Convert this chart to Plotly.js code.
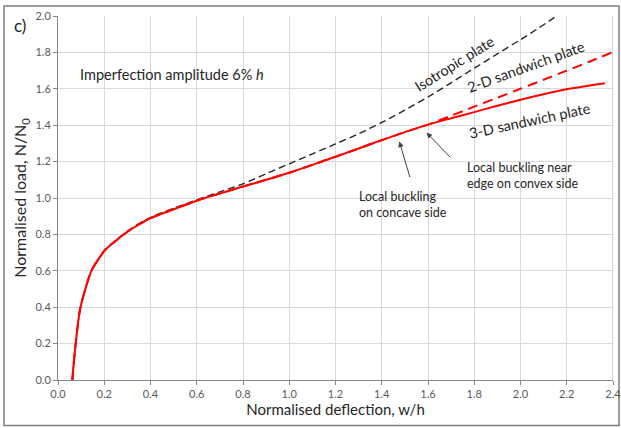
<!DOCTYPE html>
<html>
<head>
<meta charset="utf-8">
<script src="https://cdn.plot.ly/plotly-3.0.1.min.js"></script>
<style>
  html, body { margin: 0; padding: 0; background: #ffffff; }
  #chart { width: 621px; height: 428px; }
</style>
</head>
<body>
<div id="chart"></div>
<script>
// Normalised deflection w/h and normalised load N/N0 for each plate model
const isoDefl  = [0.062, 0.0735, 0.095, 0.117, 0.146, 0.182, 0.203, 0.254, 0.311, 0.398, 0.50, 0.60, 0.70, 0.80, 0.90, 1.00, 1.10, 1.20, 1.30, 1.40, 1.50, 1.60, 1.70, 1.80, 1.90, 2.00, 2.08, 2.156];
const isoLoad  = [0.0,   0.165,  0.385, 0.495, 0.604, 0.679, 0.716, 0.772, 0.828, 0.892, 0.943, 0.990, 1.034, 1.078, 1.133, 1.188, 1.242, 1.297, 1.353, 1.415, 1.483, 1.555, 1.633, 1.713, 1.792, 1.870, 1.935, 2.0];

const sw2Defl  = [0.062, 0.0735, 0.095, 0.117, 0.146, 0.182, 0.203, 0.254, 0.311, 0.398, 0.50, 0.60, 0.70, 0.80, 0.90, 1.00, 1.10, 1.20, 1.30, 1.40, 1.50, 1.60, 1.70, 1.80, 1.90, 2.00, 2.10, 2.20, 2.30, 2.40];
const sw2Load  = [0.0,   0.165,  0.385, 0.495, 0.604, 0.677, 0.714, 0.769, 0.824, 0.888, 0.938, 0.985, 1.025, 1.063, 1.100, 1.139, 1.182, 1.227, 1.272, 1.318, 1.362, 1.403, 1.452, 1.502, 1.551, 1.600, 1.650, 1.700, 1.750, 1.802];

const sw3Defl  = [0.062, 0.0735, 0.095, 0.117, 0.146, 0.182, 0.203, 0.254, 0.311, 0.398, 0.50, 0.60, 0.70, 0.80, 0.90, 1.00, 1.10, 1.20, 1.30, 1.40, 1.50, 1.60, 1.70, 1.80, 1.90, 2.00, 2.10, 2.20, 2.30, 2.365];
const sw3Load  = [0.0,   0.165,  0.385, 0.495, 0.604, 0.677, 0.714, 0.769, 0.824, 0.888, 0.938, 0.985, 1.025, 1.063, 1.100, 1.139, 1.182, 1.227, 1.272, 1.318, 1.362, 1.403, 1.438, 1.472, 1.507, 1.540, 1.570, 1.597, 1.618, 1.630];

const xTicks = [0.0, 0.2, 0.4, 0.6, 0.8, 1.0, 1.2, 1.4, 1.6, 1.8, 2.0, 2.2, 2.4];
const yTicks = [0.0, 0.2, 0.4, 0.6, 0.8, 1.0, 1.2, 1.4, 1.6, 1.8, 2.0];

const FONT = 'Lato, "Open Sans", sans-serif';
const TXT = '#262626';

const traces = [
  { x: isoDefl, y: isoLoad, type: 'scatter', mode: 'lines', name: 'Isotropic plate',
    line: { color: '#262626', width: 1.4, dash: '7px,4px', shape: 'spline', smoothing: 0.8 } },
  { x: sw2Defl, y: sw2Load, type: 'scatter', mode: 'lines', name: '2-D sandwich plate',
    line: { color: '#ff0000', width: 2, dash: '10px,6px', shape: 'spline', smoothing: 0.8 } },
  { x: sw3Defl, y: sw3Load, type: 'scatter', mode: 'lines', name: '3-D sandwich plate',
    line: { color: '#ff0000', width: 2, shape: 'spline', smoothing: 0.8 } }
];

const axisCommon = {
  showgrid: true, gridcolor: '#d9d9d9', gridwidth: 1,
  zeroline: false, showline: true, linecolor: '#868686', linewidth: 1,
  ticks: 'outside', ticklen: 4, tickcolor: '#868686',
  tickfont: { family: FONT, size: 11, color: '#595959' },
  ticklabeloverflow: 'allow',
  tickformat: '.1f', fixedrange: true
};

const layout = {
  width: 621, height: 428,
  margin: { l: 58, r: 8, t: 16, b: 48 },
  paper_bgcolor: '#ffffff', plot_bgcolor: '#ffffff',
  showlegend: false,
  font: { family: FONT, color: TXT },
  xaxis: Object.assign({}, axisCommon, {
    range: [0, 2.4], tickvals: xTicks,
    title: { text: 'Normalised deflection, w/h', font: { family: FONT, size: 15, color: TXT }, standoff: 3 }
  }),
  yaxis: Object.assign({}, axisCommon, {
    range: [0, 2.0], tickvals: yTicks,
    title: { text: 'Normalised load, N/N<sub>0</sub>', font: { family: FONT, size: 16, color: TXT }, standoff: 4 }
  }),
  shapes: [
    // chart frame
    { type: 'rect', xref: 'paper', yref: 'paper', x0: -0.0973, x1: 1.0108, y0: -0.125, y1: 1.0275,
      line: { color: '#7f7f7f', width: 1.5 }, fillcolor: 'rgba(0,0,0,0)', layer: 'below' },
    // right border of the plot area
    { type: 'line', xref: 'x', yref: 'paper', x0: 2.4, x1: 2.4, y0: 0, y1: 1,
      line: { color: '#a6a6a6', width: 1 } }
  ],
  annotations: [
    { xref: 'paper', yref: 'paper', x: -0.082, y: 0.975, xanchor: 'left', yanchor: 'middle',
      text: 'c)', showarrow: false, font: { family: FONT, size: 17, color: TXT } },
    { x: 0.0865, y: 1.676, xanchor: 'left', yanchor: 'middle',
      text: 'Imperfection amplitude 6% <i>h</i>', showarrow: false,
      font: { family: FONT, size: 14.5, color: TXT } },
    { x: 1.715, y: 1.74, text: 'Isotropic plate', showarrow: false, textangle: -32,
      font: { family: FONT, size: 14.5, color: TXT } },
    { x: 2.025, y: 1.725, text: '2-D sandwich plate', showarrow: false, textangle: -20,
      font: { family: FONT, size: 14.5, color: TXT } },
    { x: 2.041, y: 1.425, text: '3-D sandwich plate', showarrow: false, textangle: -12,
      font: { family: FONT, size: 14.5, color: TXT } },
    { x: 1.76, y: 1.126, xanchor: 'left', yanchor: 'middle', align: 'left',
      text: 'Local buckling near<br>edge on convex side', showarrow: false,
      font: { family: FONT, size: 12.5, color: TXT } },
    { x: 1.293, y: 0.962, xanchor: 'left', yanchor: 'middle', align: 'left',
      text: 'Local buckling<br>on concave side', showarrow: false,
      font: { family: FONT, size: 12.5, color: TXT } },
    // arrows pointing at the buckling locations
    { x: 1.476, y: 1.31, ax: 11, ay: 37, text: '', showarrow: true,
      arrowhead: 2, arrowsize: 1.1, arrowwidth: 1, arrowcolor: '#404040' },
    { x: 1.594, y: 1.359, ax: 25, ay: 26, text: '', showarrow: true,
      arrowhead: 2, arrowsize: 1.1, arrowwidth: 1, arrowcolor: '#404040' }
  ]
};

Plotly.newPlot('chart', traces, layout, { displayModeBar: false, staticPlot: true });
</script>
</body>
</html>
